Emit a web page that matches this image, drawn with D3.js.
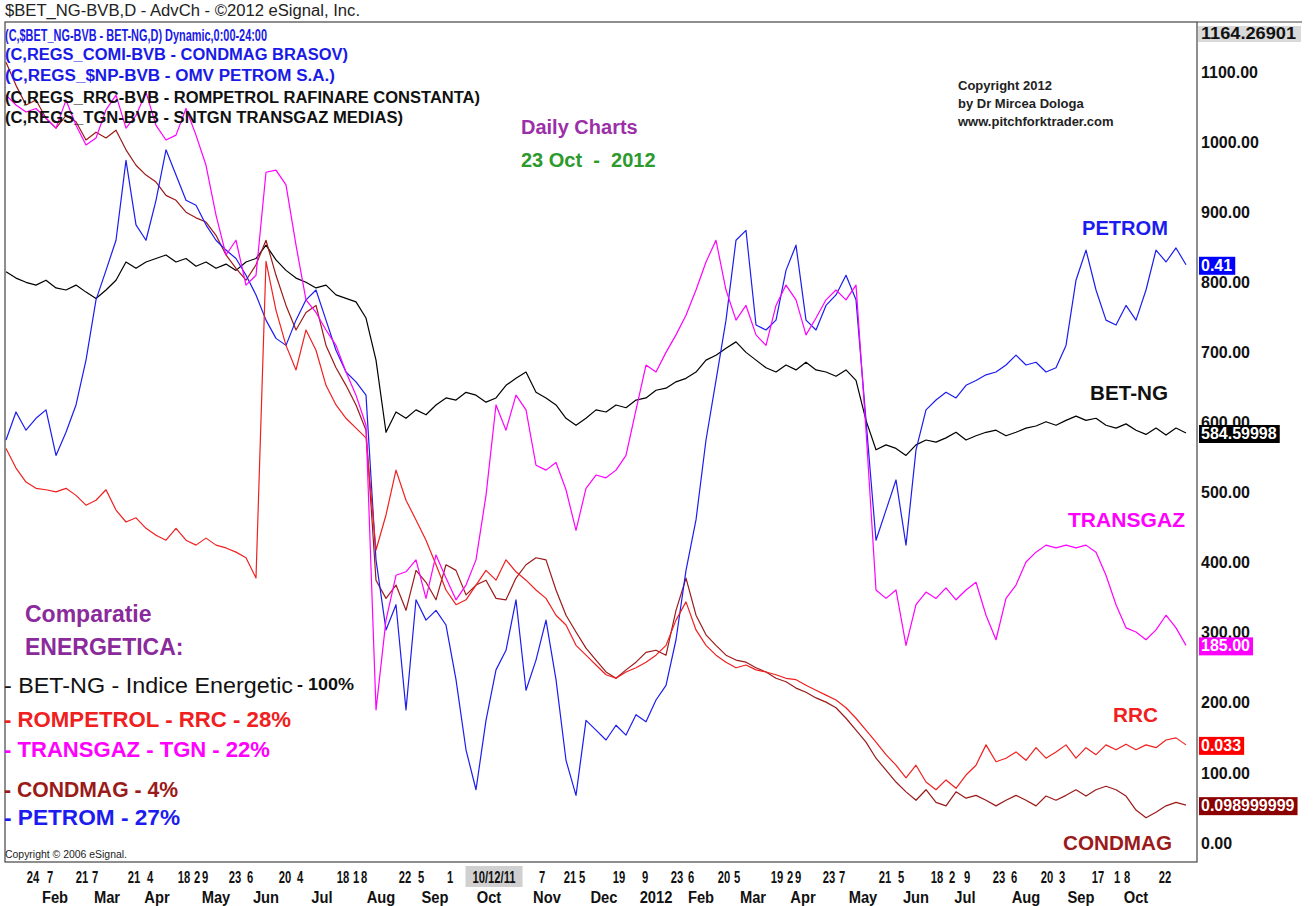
<!DOCTYPE html>
<html><head><meta charset="utf-8">
<script src="https://cdn.jsdelivr.net/npm/d3@7"></script>
<style>
body{margin:0;background:#fff}
svg{display:block}
text{font-family:"Liberation Sans",Arial,sans-serif}
</style>
</head><body>
<svg id="c" width="1313" height="906"></svg>
<script>
// ---- data (sampled closes, normalized scale) ----
const betng = [815,806,800,796,803,792,789,796,786,777,789,803,829,820,829,834,839,829,834,823,829,820,826,817,829,834,853,832,817,806,800,792,796,782,777,772,749,689,586,615,606,618,611,625,635,632,643,639,629,635,653,663,672,643,635,625,606,596,606,618,615,625,621,632,635,646,649,658,663,672,689,696,706,715,700,689,678,672,682,675,686,675,672,666,675,660,603,561,568,563,553,568,575,572,578,586,575,581,586,589,581,586,592,595,601,596,603,609,603,606,596,592,598,589,583,592,582,592,585];
const petrom = [575,615,589,606,618,553,586,625,689,775,817,860,974,882,860,917,989,953,917,910,882,860,846,834,810,782,746,720,710,746,775,789,746,703,672,658,639,404,304,340,190,347,318,332,311,233,133,76,175,247,275,347,218,261,318,233,118,68,175,161,147,168,154,183,173,204,225,290,389,461,575,660,746,860,874,739,732,746,817,853,746,732,767,782,810,775,603,432,475,518,425,561,618,632,643,635,653,660,668,672,682,696,682,686,672,678,710,803,846,789,746,739,767,746,789,846,829,849,825];
const transgaz = [1067,1053,1043,1048,1034,1020,1060,1024,996,1006,1046,1067,1020,1038,1071,1024,1003,1010,1048,1010,967,896,839,860,796,810,957,960,939,853,775,757,732,710,672,639,596,190,318,382,387,404,349,411,378,347,368,404,496,625,589,639,618,539,532,543,504,446,506,525,521,532,553,618,682,672,700,725,753,789,829,860,789,746,767,725,710,767,796,775,725,749,775,789,775,796,589,361,349,361,282,340,358,349,364,347,361,372,325,290,349,368,401,415,425,421,425,421,425,415,382,340,307,301,290,304,325,307,282];
const rrc = [563,535,515,506,504,501,506,496,482,489,504,475,458,464,449,439,432,449,432,425,435,425,421,415,407,378,830,760,710,675,732,703,653,625,606,592,578,418,468,532,489,461,432,397,361,340,347,368,389,375,404,387,375,361,349,325,311,282,268,254,240,235,244,250,258,268,282,318,344,304,282,268,258,250,254,247,244,240,235,233,225,218,211,204,193,178,161,144,126,111,93,111,87,76,90,78,97,111,140,116,121,130,118,136,121,130,140,121,136,126,140,133,141,133,140,136,147,150,140];
const condmag = [1114,1081,1053,1060,1034,1020,1038,1029,1003,1014,1006,1017,989,967,953,943,924,917,900,892,886,867,839,820,803,825,860,810,767,732,757,767,710,678,653,625,589,375,349,368,332,389,372,347,397,389,354,368,375,349,347,378,397,407,404,361,325,301,278,261,244,235,247,258,272,275,268,332,378,325,297,282,268,261,258,250,244,235,230,221,215,207,201,193,178,161,144,121,104,87,73,61,76,58,53,73,64,68,61,53,61,68,61,53,67,61,68,76,67,76,81,76,67,47,36,44,53,58,54];

const seriesNames  = ["BET-NG","CONDMAG","PETROM","RRC","TRANSGAZ"];
const seriesColors = ["#000000","#9b1a1a","#1c1cf0","#f02020","#ff00ff"];
const lastLabels   = ["584.59998","0.098999999","0.41","0.033","185.00"];
const boxColors    = ["#000000","#8b0000","#0000ff","#ff0000","#ff00ff"];

const yTicks = [0,100,200,300,400,500,600,700,800,900,1000,1100];
const yMax = 1164.26901;

const dayLabels = ["24","7","21","7","21","4","18","2","9","23","6","20","4","18","1","8","22","5","1","10/12/11","7","21","5","19","9","23","6","20","5","19","2","9","23","7","21","5","18","2","9","23","6","20","3","17","1","8","22"];
const dayPos    = [2.7,4.4,7.6,8.9,12.8,14.4,17.8,19.1,19.9,22.9,24.4,27.9,29.4,33.7,35.0,35.8,39.9,41.5,44.4,48.8,53.6,56.4,57.6,61.3,63.9,67.1,68.5,71.8,73.1,77.1,78.4,79.2,82.3,83.6,87.9,89.5,93.1,94.6,96.1,99.3,100.8,104.1,105.6,109.2,111.1,112.1,115.9];
const monthLabels = ["Feb","Mar","Apr","May","Jun","Jul","Aug","Sep","Oct","Nov","Dec","2012","Feb","Mar","Apr","May","Jun","Jul","Aug","Sep","Oct"];
const monthPos    = [4.9,10.1,15.1,21.0,26.0,31.6,37.5,42.9,48.3,54.1,59.8,65.0,69.5,74.7,79.7,85.7,91.0,95.9,102.0,107.5,113.0];

const legendLines = ["(C,$BET_NG-BVB - BET-NG,D) Dynamic,0:00-24:00","(C,REGS_COMI-BVB - CONDMAG BRASOV)","(C,REGS_$NP-BVB - OMV PETROM S.A.)","(C,REGS_RRC-BVB - ROMPETROL RAFINARE CONSTANTA)","(C,REGS_TGN-BVB - SNTGN TRANSGAZ MEDIAS)"];
const legendColors = ["#1a1ae6","#1a1ae6","#1a1ae6","#111","#111"];

(function(){
const svg = d3.select("#c");
const pL = 5, pR = 1197, pT = 22, pB = 862;
const N = betng.length;
const x = d3.scaleLinear().domain([0, N-1]).range([6, 1186]);
const y = d3.scaleLinear().domain([0, yMax]).range([843, 27]);

function fit(sel, w){ sel.attr("textLength", w).attr("lengthAdjust","spacingAndGlyphs"); return sel; }

svg.append("rect").attr("width",1313).attr("height",906).attr("fill","#fff");

svg.append("rect").attr("x",pL).attr("y",pT).attr("width",pR-pL).attr("height",pB-pT)
  .attr("fill","none").attr("stroke","#444").attr("stroke-width",1.2);
svg.append("line").attr("x1",pR).attr("x2",1302).attr("y1",pT).attr("y2",pT).attr("stroke","#444").attr("stroke-width",1.2);

const data = [betng, condmag, petrom, rrc, transgaz];
const line = d3.line().x((d,i)=>x(i)).y(d=>y(d));
data.forEach((s,k)=>{
  svg.append("path").datum(s).attr("d",line).attr("fill","none")
    .attr("stroke",seriesColors[k]).attr("stroke-width",1.2).attr("stroke-linejoin","round");
});

svg.append("rect").attr("x",0).attr("y",0).attr("width",368).attr("height",21).attr("fill","#fff");
fit(svg.append("text").attr("x",5).attr("y",16).attr("font-size",16).attr("fill","#222")
  .text("$BET_NG-BVB,D - AdvCh - ©2012 eSignal, Inc."), 355);

const ly = [41,60,81,103,123];
const lw = [262,343,330,475,398];
legendLines.forEach((t,i)=>{
  fit(svg.append("text").attr("x",5).attr("y",ly[i]).attr("font-size",16).attr("font-weight","bold")
    .attr("fill",legendColors[i]).text(t), lw[i]);
});

svg.append("text").attr("x",521).attr("y",134).attr("font-size",20).attr("font-weight","bold").attr("fill","#9b2fa8").text("Daily Charts");
svg.append("text").attr("x",521).attr("y",167).attr("font-size",20).attr("font-weight","bold").attr("fill","#2c9a2c")
  .style("white-space","pre").text("23 Oct  -  2012");
["Copyright 2012","by Dr Mircea Dologa","www.pitchforktrader.com"].forEach((t,i)=>{
  svg.append("text").attr("x",958).attr("y",90+i*18).attr("font-size",13).attr("font-weight","bold").attr("fill","#222").text(t);
});

const endLab = [
  {t:"PETROM",x:1082,y:235,c:"#1c1cf0",w:86},
  {t:"BET-NG",x:1090,y:400,c:"#111",w:78},
  {t:"TRANSGAZ",x:1068,y:527,c:"#ff00ff",w:117},
  {t:"RRC",x:1113,y:722,c:"#f02020",w:45},
  {t:"CONDMAG",x:1063,y:850,c:"#9b1a1a",w:109}
];
endLab.forEach(d=>fit(svg.append("text").attr("x",d.x).attr("y",d.y).attr("font-size",20).attr("font-weight","bold").attr("fill",d.c).text(d.t), d.w));

svg.append("text").attr("x",25).attr("y",622).attr("font-size",23).attr("font-weight","bold").attr("fill","#8b2a9b").text("Comparatie");
svg.append("text").attr("x",25).attr("y",655).attr("font-size",23).attr("font-weight","bold").attr("fill","#8b2a9b").text("ENERGETICA:");
fit(svg.append("text").attr("x",4).attr("y",693).attr("font-size",22).attr("fill","#111").text("- BET-NG - Indice Energetic"), 289);
fit(svg.append("text").attr("x",297).attr("y",690).attr("font-size",16).attr("font-weight","bold").attr("fill","#111").text("- 100%"), 57);
const bl = [
  {t:"- ROMPETROL - RRC - 28%",y:727,c:"#f02020",w:287},
  {t:"- TRANSGAZ - TGN - 22%",y:757,c:"#ff00ff",w:266},
  {t:"- CONDMAG - 4%",y:797,c:"#9b1a1a",w:174},
  {t:"- PETROM - 27%",y:825,c:"#1c1cf0",w:176}
];
bl.forEach(d=>fit(svg.append("text").attr("x",4).attr("y",d.y).attr("font-size",22).attr("font-weight","bold").attr("fill",d.c).text(d.t), d.w));
fit(svg.append("text").attr("x",5).attr("y",858).attr("font-size",10).attr("fill","#222").text("Copyright © 2006 eSignal."), 122);

svg.append("rect").attr("x",1198).attr("y",26).attr("width",103).attr("height",16).attr("fill","#d9d9d9");
fit(svg.append("text").attr("x",1201).attr("y",39).attr("font-size",16).attr("font-weight","bold").attr("fill","#111").text(yMax.toFixed(5)), 95);
const ax = d3.axisRight(y).tickValues(yTicks).tickFormat(d3.format(".2f")).tickSize(0).tickPadding(0);
const axg = svg.append("g").attr("transform","translate(1201,0)").call(ax);
axg.select(".domain").remove();
axg.selectAll("text").attr("font-size",16).attr("font-weight","bold").attr("fill","#111")
  .attr("font-family","Liberation Sans, Arial, sans-serif");

data.forEach((s,k)=>{
  const yy = y(s[s.length-1]);
  const g = svg.append("g");
  const t = g.append("text").attr("x",1201).attr("y",yy+6).attr("font-size",16).attr("font-weight","bold").attr("fill","#fff").text(lastLabels[k]);
  const bb = t.node().getBBox();
  g.insert("rect","text").attr("x",1199).attr("y",yy-8).attr("width",Math.min(bb.width+5,114)).attr("height",18).attr("fill",boxColors[k]);
});

const xa = svg.append("g");
dayLabels.forEach((t,i)=>{
  const tx = xa.append("text").attr("x",x(dayPos[i])).attr("y",883).attr("text-anchor","middle")
    .attr("font-size",16).attr("font-weight","bold").attr("fill","#111").text(t);
  fit(tx, tx.node().getComputedTextLength()*0.7);
  if (t.indexOf("/")>=0){
    const bb = tx.node().getBBox();
    xa.insert("rect","text").attr("x",bb.x-7).attr("y",866).attr("width",bb.width+14).attr("height",21).attr("fill","#d0d0d0");
  }
});
monthLabels.forEach((t,i)=>{
  const tx = xa.append("text").attr("x",x(monthPos[i])).attr("y",903).attr("text-anchor","middle")
    .attr("font-size",16).attr("font-weight","bold").attr("fill","#111").text(t);
  fit(tx, tx.node().getComputedTextLength()*0.92);
});
})();
</script>
</body></html>
